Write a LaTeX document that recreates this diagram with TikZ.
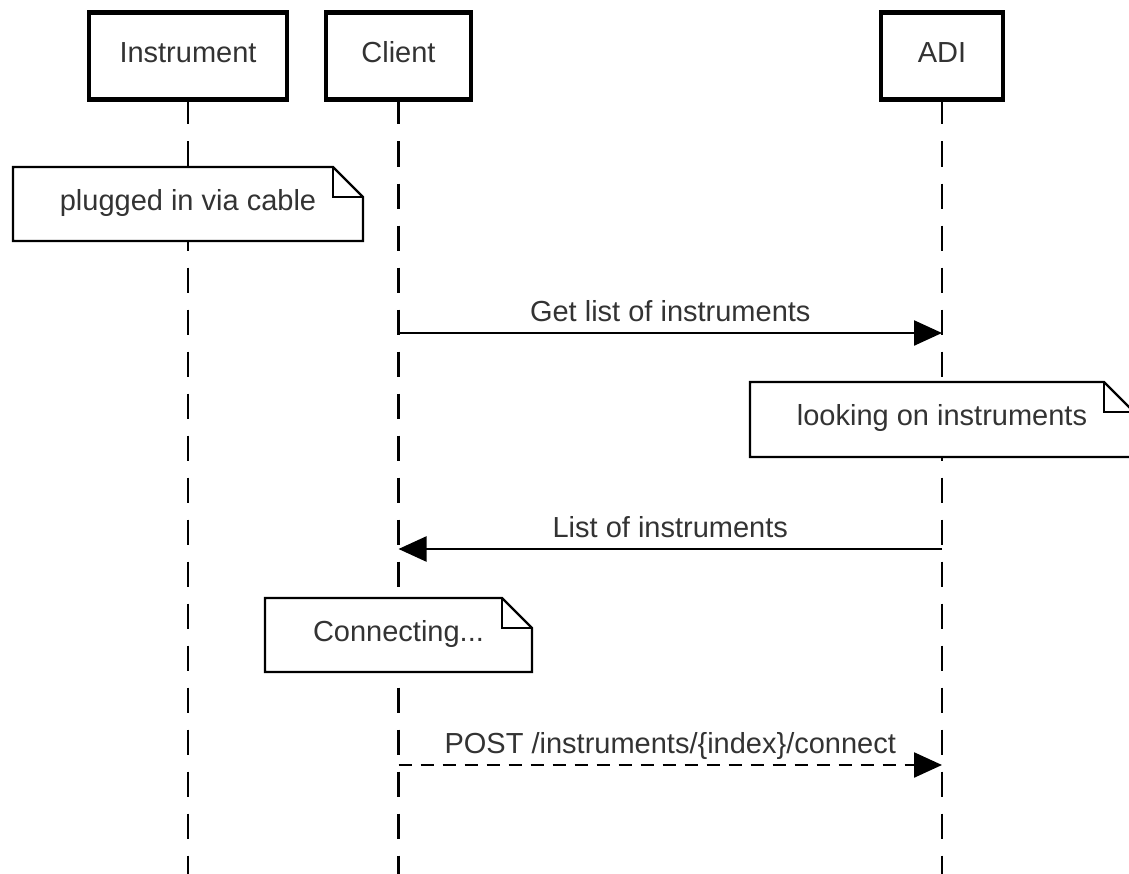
\documentclass[tikz,border=0pt]{standalone}
\usepackage{fontspec}
\setmainfont{Liberation Sans}
\usetikzlibrary{arrows.meta,calc}
\begin{document}
\begin{tikzpicture}[x=0.75pt,y=-0.75pt,
  every node/.style={font=\fontsize{21.75}{26}\selectfont, text=black!80, inner sep=0pt, outer sep=0pt},
  head/.style={draw=black, line width=3.3pt, fill=white, minimum height=65.25pt,
               text height=0.92em, text depth=0pt},
  lifeline/.style={draw=black, line width=1.8pt, dash pattern=on 18.75pt off 12.75pt},
  note/.style={fill=white, minimum height=55.5pt, text height=0.92em, text depth=0pt},
  noteline/.style={draw=black, line width=1.6pt, line join=miter},
  msg/.style={draw=black, line width=1.8pt, -{Triangle[length=21pt,width=18.75pt]}},
  reply/.style={msg, dash pattern=on 9.75pt off 6.75pt},
  lbl/.style={anchor=base, yshift=9pt}
]
\useasboundingbox (0,0) rectangle (1129,874);

% participant headers
\node[head, minimum width=148.5pt]  (inst)   at (188,56)   {Instrument};
\node[head, minimum width=108.75pt] (client) at (398.5,56) {Client};
\node[head, minimum width=91.5pt]   (adi)    at (942,56)   {ADI};

% lifeline ends at the bottom edge
\coordinate (inst-end)   at (188,874);
\coordinate (client-end) at (398.5,874);
\coordinate (adi-end)    at (942,874);

\draw[lifeline] (inst.south)   -- (inst-end);
\draw[lifeline] (client.south) -- (client-end);
\draw[lifeline] (adi.south)    -- (adi-end);
% redraw headers over the lifeline starts
\node[head, minimum width=148.5pt]  at (inst)   {Instrument};
\node[head, minimum width=108.75pt] at (client) {Client};
\node[head, minimum width=91.5pt]   at (adi)    {ADI};

% notes with a folded corner
\node[note, minimum width=262.5pt] (n1) at (188,204)     {plugged in via cable};
\node[note, minimum width=288pt, minimum height=56.25pt] (n2) at (942,419.5) {looking on instruments};
\node[note, minimum width=200.25pt] (n3) at (398.5,635)  {Connecting...};
\foreach \n in {n1,n2,n3}{
  \draw[noteline] (\n.south west) -- (\n.north west) -- ($(\n.north east)+(-30,0)$)
        -- ($(\n.north east)+(0,30)$) -- (\n.south east) -- cycle;
  \draw[noteline] ($(\n.north east)+(-30,0)$) -- ($(\n.north east)+(-30,30)$)
        -- ($(\n.north east)+(0,30)$);
}

% message anchors on the lifelines
\coordinate (c1) at (398.5,333);
\coordinate (a1) at (942,333);
\coordinate (a2) at (942,549);
\coordinate (c2) at (398.5,549);
\coordinate (c3) at (398.5,765);
\coordinate (a3) at (942,765);

\draw[msg] (c1) -- node[lbl] {Get list of instruments} (a1);
\draw[msg] (a2) -- node[lbl] {List of instruments} (c2);
\draw[reply] (c3) -- node[lbl] {POST /instruments/\{index\}/connect} (a3);
\end{tikzpicture}
\end{document}
